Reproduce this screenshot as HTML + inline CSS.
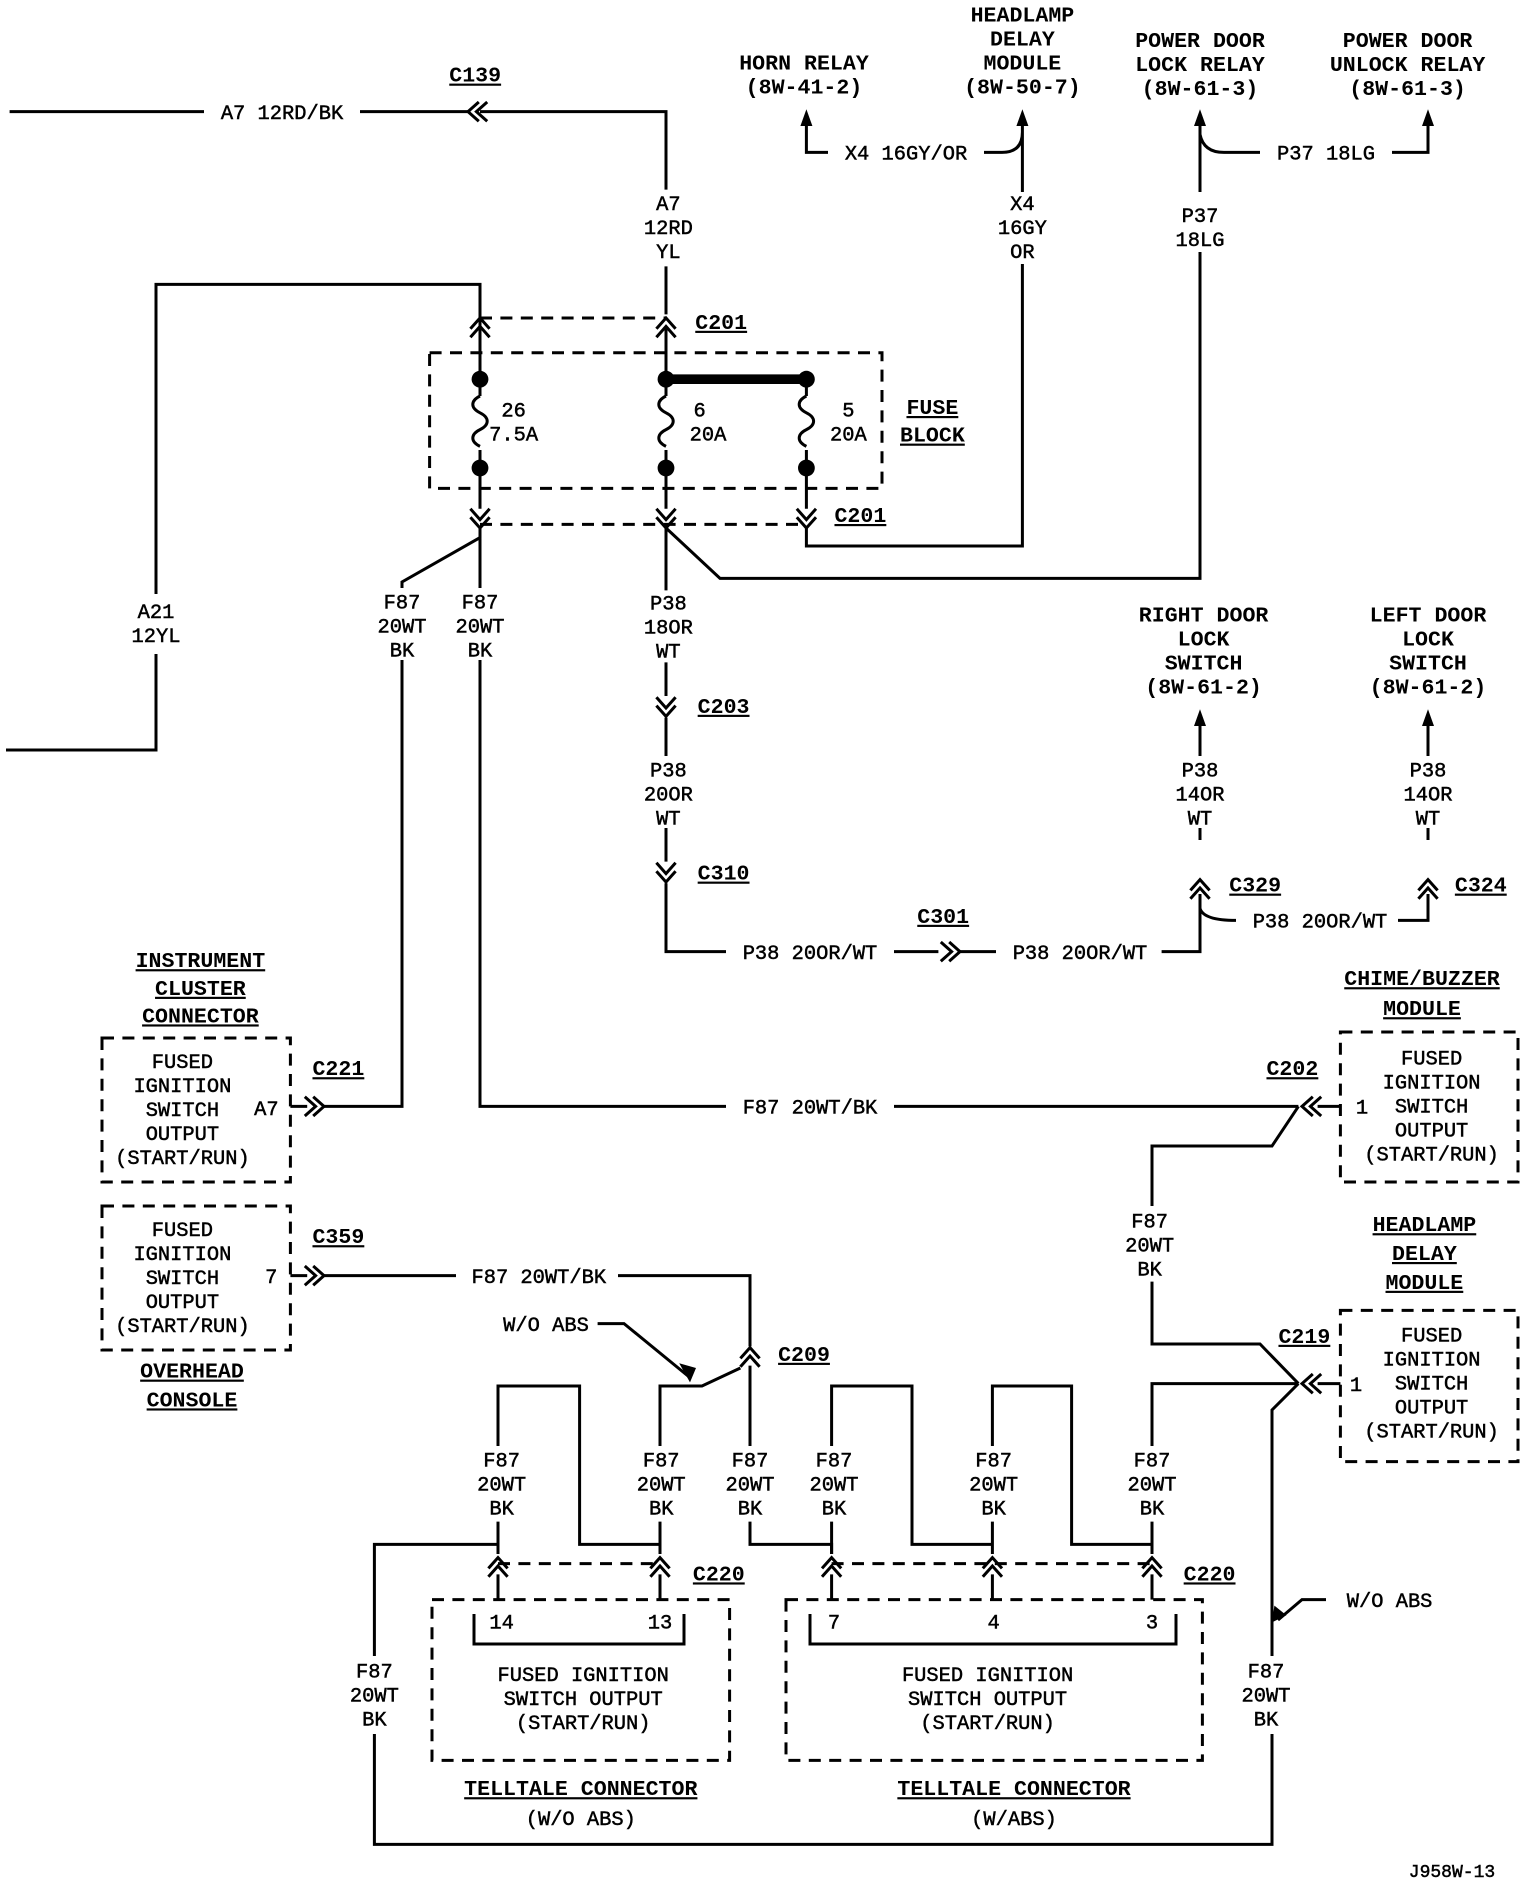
<!DOCTYPE html>
<html><head><meta charset="utf-8"><style>
html,body{margin:0;padding:0;background:#fff}
svg{display:block}
text{font-family:"Liberation Mono",monospace;font-size:17px;fill:#000;text-anchor:middle;stroke:#000;stroke-width:0.4}
.b{font-weight:bold;font-size:18px;text-decoration:underline;stroke-width:0}
.h{font-weight:bold;font-size:18px;stroke-width:0}
</style></head><body>
<svg width="1536" height="1890" viewBox="0 0 1280 1575" xmlns="http://www.w3.org/2000/svg">
<defs>
<path id="cv" d="M-8 4 L0 -5 L8 4 M-8 11 L0 2 L8 11" fill="none" stroke="#000" stroke-width="2.5"/>
<path id="cd" d="M-8 -11 L0 -2 L8 -11 M-8 -4 L0 5 L8 -4" fill="none" stroke="#000" stroke-width="2.5"/>
<path id="cr" d="M-11 -8 L-2 0 L-11 8 M-4 -8 L5 0 L-4 8" fill="none" stroke="#000" stroke-width="2.5"/>
<path id="cl" d="M11 -8 L2 0 L11 8 M4 -8 L-5 0 L4 8" fill="none" stroke="#000" stroke-width="2.5"/>
<path id="au" d="M-5 10 L0 -4 L5 10 Z" fill="#000"/>
</defs>
<g fill="none" stroke="#000" stroke-width="2.5">
<path d="M8 93 H170 M300 93 H392 M400 93 H555 V158 M555 222 V262 M555 272 V316"/>
<path d="M400 272 V237 H130 V495 M130 545 V625 H5"/>
<path d="M400 265 H555" stroke-dasharray="10 7"/>
<rect x="358" y="294" width="377" height="113" stroke-dasharray="10 7"/>
<path d="M400 437 H672" stroke-dasharray="10 7"/>
<path d="M400 272 V330 M400 375 V424 M555 316 V330 M555 375 V424 M672 316 V330 M672 375 V424"/>
<path d="M400 330 c-8 4 -8 10 0 14 c8 4 8 10 0 14 c-8 4 -8 10 0 14 M555 330 c-8 4 -8 10 0 14 c8 4 8 10 0 14 c-8 4 -8 10 0 14 M672 330 c-8 4 -8 10 0 14 c8 4 8 10 0 14 c-8 4 -8 10 0 14"/>
<path d="M555 316 H672" stroke-width="8"/>
<path d="M672 440 V455 H852 V220 M852 160 V105 M852 110 Q852 127 835 127 H820 M690 127 H672 V105"/>
<path d="M555 440 L600 482 H1000 V210 M1000 160 V105 M1000 112 Q1003 127 1020 127 H1050 M1160 127 H1190 V105"/>
<path d="M400 440 V448 L335 485 V490 M400 448 V490 M335 550 V922 H270 M400 550 V922 H605 M745 922 H1082"/>
<path d="M555 440 V492 M555 552 V580 M555 598 V630 M555 690 V718 M555 736 V793 H605 M745 793 H782 M798 793 H830 M968 793 H1000 V745 M1000 690 V700 M1000 757 Q1003 767 1030 767 M1165 767 H1190 V745 M1190 690 V700"/>
<path d="M1000 630 V600 M1190 630 V600"/>
<rect x="85" y="865" width="157" height="120" stroke-dasharray="10 7"/>
<rect x="85" y="1005" width="157" height="120" stroke-dasharray="10 7"/>
<path d="M242 922 H256 M242 1063 H256 M270 1063 H380 M515 1063 H625 V1122 M625 1138 V1205"/>
<rect x="1117" y="860" width="148" height="125" stroke-dasharray="10 7"/>
<rect x="1117" y="1092" width="148" height="126" stroke-dasharray="10 7"/>
<path d="M1098 922 H1117 M1098 1153 H1117"/>
<path d="M1082 922 L1060 955 H960 V1005 M960 1068 V1120 H1050 L1082 1153 M1082 1153 L1060 1175 V1380 M1060 1445 V1537 H312 V1445 M312 1380 V1287 H415 V1295 M1082 1153 H960 V1205 M960 1268 V1295"/>
<path d="M498 1103 H520 L575 1148"/>
<path d="M550 1205 V1155 H585 L617 1140"/>
<path d="M415 1205 V1155 H483 V1287 H550 V1295 M415 1268 V1295 M550 1268 V1295"/>
<path d="M625 1268 V1287 H693 V1295"/>
<path d="M693 1205 V1155 H760 V1287 H827 V1295 M693 1268 V1295 M827 1205 V1155 H893 V1287 H960 V1295 M827 1268 V1295"/>
<path d="M1105 1333 H1085 L1065 1350"/>
<path d="M415 1303 H550 M693 1303 H960" stroke-dasharray="10 7"/>
<rect x="360" y="1333" width="248" height="134" stroke-dasharray="10 7"/>
<rect x="655" y="1333" width="347" height="134" stroke-dasharray="10 7"/>
<path d="M415 1312 V1333 M550 1312 V1333 M693 1312 V1333 M827 1312 V1333 M960 1312 V1333"/>
<path d="M395 1345 V1370 H570 V1345 M675 1345 V1370 H980 V1345"/>
</g>
<g fill="#000">
<circle cx="400" cy="316" r="7"/><circle cx="400" cy="390" r="7"/>
<circle cx="555" cy="316" r="7"/><circle cx="555" cy="390" r="7"/>
<circle cx="672" cy="316" r="7"/><circle cx="672" cy="390" r="7"/>
<path d="M575 1152 L566 1136 L580 1140 Z"/><path d="M1060 1352 L1062 1338 L1072 1346 Z"/>
</g>
<use href="#cl" x="395" y="93"/>
<use href="#cv" x="400" y="270"/><use href="#cv" x="555" y="270"/>
<use href="#cd" x="400" y="435"/><use href="#cd" x="555" y="435"/><use href="#cd" x="672" y="435"/>
<use href="#cd" x="555" y="592"/><use href="#cd" x="555" y="730"/>
<use href="#cr" x="795" y="793"/>
<use href="#cv" x="1000" y="738"/><use href="#cv" x="1190" y="738"/>
<use href="#cr" x="265" y="922"/><use href="#cr" x="265" y="1063"/>
<use href="#cl" x="1090" y="922"/><use href="#cl" x="1090" y="1153"/>
<use href="#cv" x="625" y="1128"/>
<use href="#cv" x="415" y="1303"/><use href="#cv" x="550" y="1303"/>
<use href="#cv" x="693" y="1303"/><use href="#cv" x="827" y="1303"/><use href="#cv" x="960" y="1303"/>
<use href="#au" x="672" y="95"/><use href="#au" x="852" y="95"/><use href="#au" x="1000" y="95"/><use href="#au" x="1190" y="95"/>
<use href="#au" x="1000" y="595"/><use href="#au" x="1190" y="595"/>
<text x="235" y="99">A7 12RD/BK</text>
<text class="b" x="396" y="68">C139</text>
<text x="557" y="175">A7</text><text x="557" y="195">12RD</text><text x="557" y="215">YL</text>
<text class="b" x="601" y="274">C201</text><text class="b" x="717" y="435">C201</text>
<text x="130" y="515">A21</text><text x="130" y="535">12YL</text>
<text x="428" y="347">26</text><text x="428" y="367">7.5A</text>
<text x="583" y="347">6</text><text x="590" y="367">20A</text>
<text x="707" y="347">5</text><text x="707" y="367">20A</text>
<text class="b" x="777" y="345">FUSE</text><text class="b" x="777" y="368">BLOCK</text>
<text class="h" x="670" y="58">HORN RELAY</text><text class="h" x="670" y="78">(8W-41-2)</text>
<text class="h" x="852" y="18">HEADLAMP</text><text class="h" x="852" y="38">DELAY</text><text class="h" x="852" y="58">MODULE</text><text class="h" x="852" y="78">(8W-50-7)</text>
<text class="h" x="1000" y="39">POWER DOOR</text><text class="h" x="1000" y="59">LOCK RELAY</text><text class="h" x="1000" y="79">(8W-61-3)</text>
<text class="h" x="1173" y="39">POWER DOOR</text><text class="h" x="1173" y="59">UNLOCK RELAY</text><text class="h" x="1173" y="79">(8W-61-3)</text>
<text x="755" y="133">X4 16GY/OR</text>
<text x="852" y="175">X4</text><text x="852" y="195">16GY</text><text x="852" y="215">OR</text>
<text x="1105" y="133">P37 18LG</text>
<text x="1000" y="185">P37</text><text x="1000" y="205">18LG</text>
<text x="335" y="507">F87</text><text x="335" y="527">20WT</text><text x="335" y="547">BK</text>
<text x="400" y="507">F87</text><text x="400" y="527">20WT</text><text x="400" y="547">BK</text>
<text x="557" y="508">P38</text><text x="557" y="528">18OR</text><text x="557" y="548">WT</text>
<text class="b" x="603" y="594">C203</text>
<text x="557" y="647">P38</text><text x="557" y="667">20OR</text><text x="557" y="687">WT</text>
<text class="b" x="603" y="733">C310</text>
<text x="675" y="799">P38 20OR/WT</text><text x="900" y="799">P38 20OR/WT</text>
<text class="b" x="786" y="769">C301</text>
<text class="h" x="1003" y="518">RIGHT DOOR</text><text class="h" x="1003" y="538">LOCK</text><text class="h" x="1003" y="558">SWITCH</text><text class="h" x="1003" y="578">(8W-61-2)</text>
<text class="h" x="1190" y="518">LEFT DOOR</text><text class="h" x="1190" y="538">LOCK</text><text class="h" x="1190" y="558">SWITCH</text><text class="h" x="1190" y="578">(8W-61-2)</text>
<text x="1000" y="647">P38</text><text x="1000" y="667">14OR</text><text x="1000" y="687">WT</text>
<text x="1190" y="647">P38</text><text x="1190" y="667">14OR</text><text x="1190" y="687">WT</text>
<text class="b" x="1046" y="743">C329</text><text class="b" x="1234" y="743">C324</text>
<text x="1100" y="773">P38 20OR/WT</text>
<text class="b" x="167" y="806">INSTRUMENT</text><text class="b" x="167" y="829">CLUSTER</text><text class="b" x="167" y="852">CONNECTOR</text>
<text x="152" y="890">FUSED</text><text x="152" y="910">IGNITION</text><text x="152" y="930">SWITCH</text><text x="152" y="950">OUTPUT</text><text x="152" y="970">(START/RUN)</text>
<text x="222" y="929">A7</text>
<text class="b" x="282" y="896">C221</text>
<text x="675" y="928">F87 20WT/BK</text>
<text x="152" y="1030">FUSED</text><text x="152" y="1050">IGNITION</text><text x="152" y="1070">SWITCH</text><text x="152" y="1090">OUTPUT</text><text x="152" y="1110">(START/RUN)</text>
<text x="226" y="1069">7</text>
<text class="b" x="282" y="1036">C359</text>
<text x="449" y="1069">F87 20WT/BK</text>
<text class="b" x="160" y="1148">OVERHEAD</text><text class="b" x="160" y="1172">CONSOLE</text>
<text class="b" x="1185" y="821">CHIME/BUZZER</text><text class="b" x="1185" y="846">MODULE</text>
<text x="1193" y="887">FUSED</text><text x="1193" y="907">IGNITION</text><text x="1193" y="927">SWITCH</text><text x="1193" y="947">OUTPUT</text><text x="1193" y="967">(START/RUN)</text>
<text x="1135" y="928">1</text>
<text class="b" x="1077" y="896">C202</text>
<text x="958" y="1023">F87</text><text x="958" y="1043">20WT</text><text x="958" y="1063">BK</text>
<text class="b" x="1187" y="1026">HEADLAMP</text><text class="b" x="1187" y="1050">DELAY</text><text class="b" x="1187" y="1074">MODULE</text>
<text x="1193" y="1118">FUSED</text><text x="1193" y="1138">IGNITION</text><text x="1193" y="1158">SWITCH</text><text x="1193" y="1178">OUTPUT</text><text x="1193" y="1198">(START/RUN)</text>
<text x="1130" y="1159">1</text>
<text class="b" x="1087" y="1119">C219</text>
<text x="455" y="1109">W/O ABS</text>
<text class="b" x="670" y="1134">C209</text>
<text x="418" y="1222">F87</text><text x="418" y="1242">20WT</text><text x="418" y="1262">BK</text>
<text x="551" y="1222">F87</text><text x="551" y="1242">20WT</text><text x="551" y="1262">BK</text>
<text x="625" y="1222">F87</text><text x="625" y="1242">20WT</text><text x="625" y="1262">BK</text>
<text x="695" y="1222">F87</text><text x="695" y="1242">20WT</text><text x="695" y="1262">BK</text>
<text x="828" y="1222">F87</text><text x="828" y="1242">20WT</text><text x="828" y="1262">BK</text>
<text x="960" y="1222">F87</text><text x="960" y="1242">20WT</text><text x="960" y="1262">BK</text>
<text class="b" x="599" y="1317">C220</text><text class="b" x="1008" y="1317">C220</text>
<text x="1158" y="1339">W/O ABS</text>
<text x="312" y="1398">F87</text><text x="312" y="1418">20WT</text><text x="312" y="1438">BK</text>
<text x="1055" y="1398">F87</text><text x="1055" y="1418">20WT</text><text x="1055" y="1438">BK</text>
<text x="418" y="1357">14</text><text x="550" y="1357">13</text>
<text x="695" y="1357">7</text><text x="828" y="1357">4</text><text x="960" y="1357">3</text>
<text x="486" y="1401">FUSED IGNITION</text><text x="486" y="1421">SWITCH OUTPUT</text><text x="486" y="1441">(START/RUN)</text>
<text x="823" y="1401">FUSED IGNITION</text><text x="823" y="1421">SWITCH OUTPUT</text><text x="823" y="1441">(START/RUN)</text>
<text class="b" x="484" y="1496">TELLTALE CONNECTOR</text><text x="484" y="1521">(W/O ABS)</text>
<text class="b" x="845" y="1496">TELLTALE CONNECTOR</text><text x="845" y="1521">(W/ABS)</text>
<text x="1210" y="1564" style="font-size:15px">J958W-13</text>
</svg>
</body></html>
